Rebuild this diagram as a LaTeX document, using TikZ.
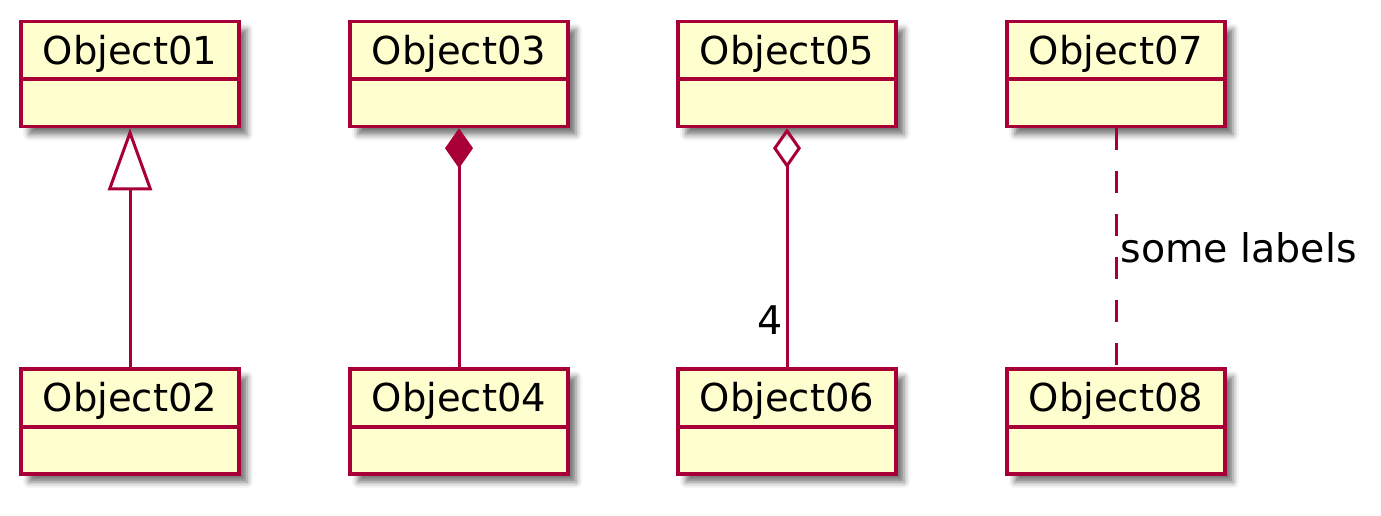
\documentclass[tikz,border=0pt]{standalone}
\usepackage{fontspec}
\setmainfont{DejaVu Sans}
\usetikzlibrary{arrows.meta,shadows.blur}
\definecolor{umlred}{HTML}{A80036}
\definecolor{umlfill}{HTML}{FEFECE}

\begin{document}
\begin{tikzpicture}[x=1pt,y=-1pt]
	\tikzset{class/.style = {shape=rectangle, draw=umlred, fill=umlfill, line width=3.5pt,
		minimum width=218pt, inner sep=0pt, text height=42.5pt, text depth=62.5pt,
		font=\fontsize{38.5}{46}\selectfont,
		blur shadow={shadow xshift=8pt, shadow yshift=-8pt, shadow blur radius=6pt, shadow opacity=55},
		path picture={\draw[umlred, line width=4pt] ([yshift=-57.5pt]path picture bounding box.north west) -- ([yshift=-57.5pt]path picture bounding box.north east);}}}
	\tikzset{edge/.style = {draw=umlred, line width=3pt}}
	\tikzset{extends/.style = {edge, -{Triangle[open, length=62pt, width=44pt]}}}
	\tikzset{composed/.style = {edge, -{Diamond[length=40pt, width=28pt]}}}
	\tikzset{aggregated/.style = {edge, -{Diamond[open, length=40pt, width=28pt]}}}
	\tikzset{depends/.style = {edge, dash pattern=on 22pt off 21pt}}
	\tikzset{tag/.style = {inner sep=0pt, font=\fontsize{39.5}{47}\selectfont}}
	\useasboundingbox (0, 0) rectangle (1381, 515);
	\node[class] (obj01) at (130, 74) {Object01};
	\node[class] (obj03) at (459, 74) {Object03};
	\node[class] (obj05) at (787, 74) {Object05};
	\node[class] (obj07) at (1116, 74) {Object07};
	\node[class] (obj02) at (130, 421.5) {Object02};
	\node[class] (obj04) at (459, 421.5) {Object04};
	\node[class] (obj06) at (787, 421.5) {Object06};
	\node[class] (obj08) at (1116, 421.5) {Object08};
	\draw[extends] (obj02) to (obj01);
	\draw[composed] (obj04) to (obj03);
	\draw[aggregated] (obj06) -- node[tag, pos=0, anchor=base east, xshift=-3pt, yshift=32.5pt] {4} (obj05);
	\draw[depends] (obj07) -- node[tag, anchor=west, xshift=3pt] {some labels} (obj08);
\end{tikzpicture}
\end{document}
